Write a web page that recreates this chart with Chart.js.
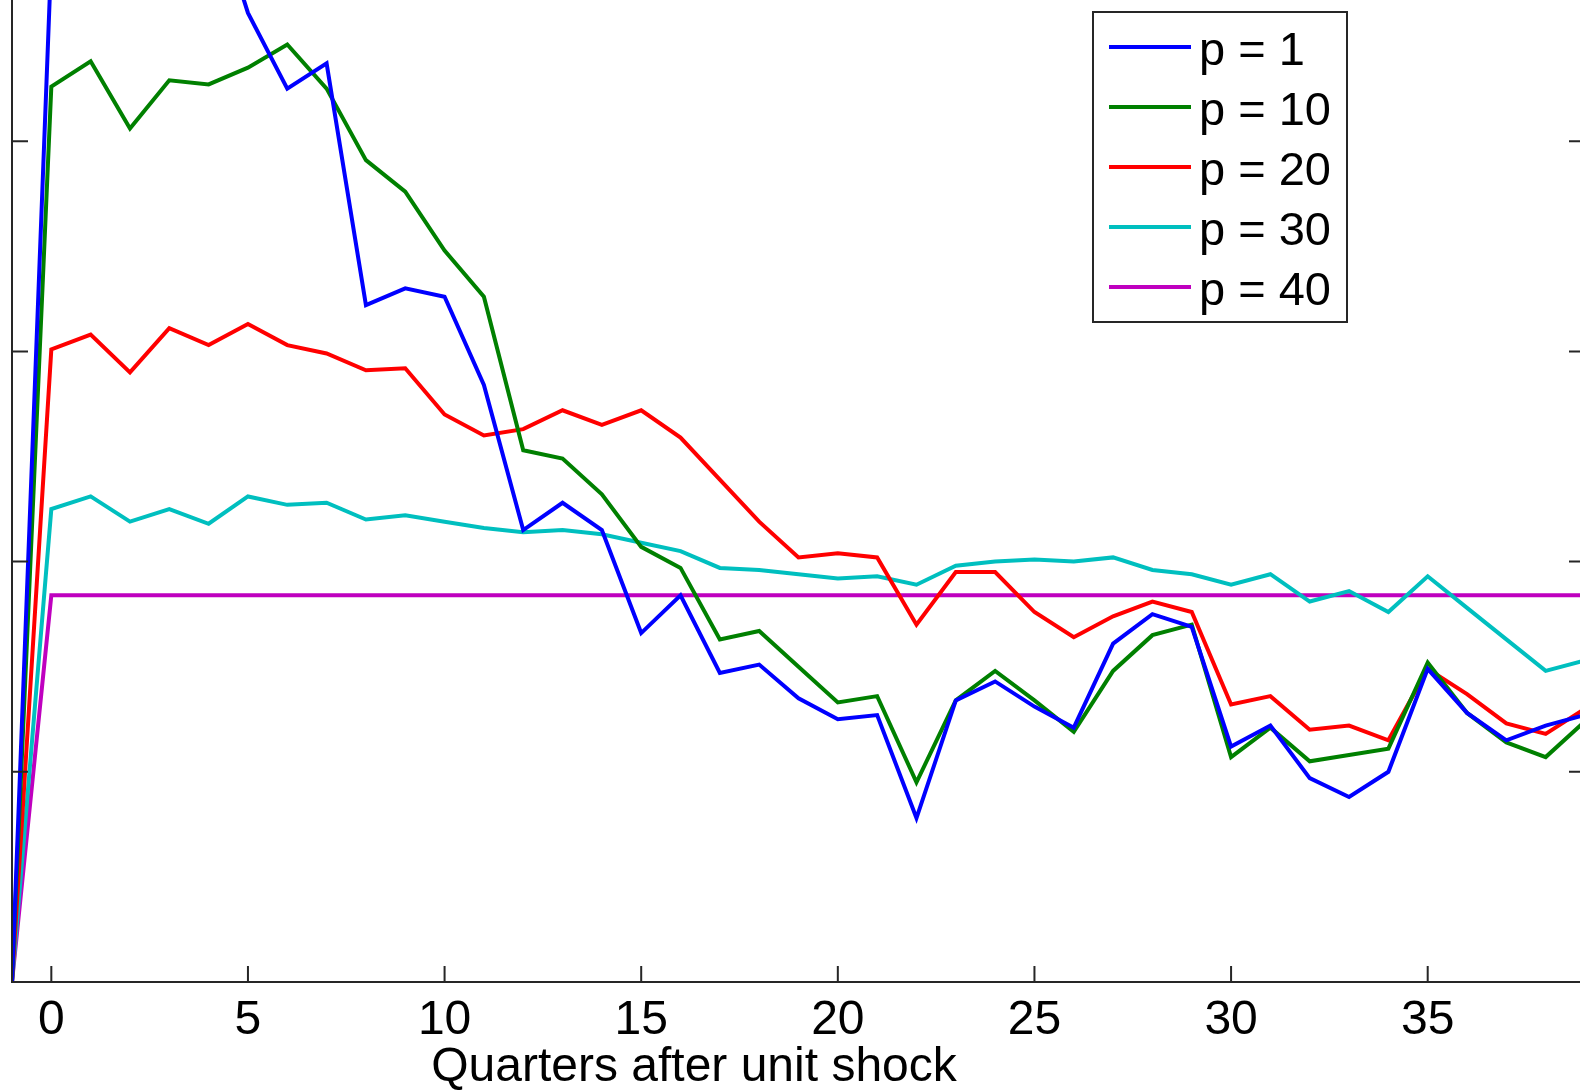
<!DOCTYPE html>
<html>
<head>
<meta charset="utf-8">
<script src="https://cdn.jsdelivr.net/npm/chart.js@4.4.0/dist/chart.umd.min.js"></script>
<style>
	html, body { margin: 0; padding: 0; background: #fff; overflow: hidden; width: 1580px; height: 1091px; }
	#wrap { position: absolute; left: -28px; top: -69px; width: 1613px; height: 1160px; }
</style>
</head>
<body>
<div id="wrap"><canvas id="irf-chart"></canvas></div>
<script>
var quarters = [-1, 0, 1, 2, 3, 4, 5, 6, 7, 8, 9, 10, 11, 12, 13, 14, 15, 16, 17, 18, 19,
	20, 21, 22, 23, 24, 25, 26, 27, 28, 29, 30, 31, 32, 33, 34, 35, 36, 37, 38, 39];

var p1 = [0, 4.88, 5.40, 5.10, 5.30, 5.20, 4.61, 4.25, 4.37, 3.22, 3.30, 3.26, 2.84, 2.15, 2.28, 2.15,
	1.66, 1.84, 1.47, 1.51, 1.35, 1.25, 1.27, 0.78, 1.34, 1.43, 1.31, 1.21, 1.61, 1.75, 1.69,
	1.12, 1.22, 0.97, 0.88, 1.00, 1.49, 1.28, 1.15, 1.22, 1.27];
var p10 = [0, 4.26, 4.38, 4.06, 4.29, 4.27, 4.35, 4.46, 4.25, 3.91, 3.76, 3.48, 3.26, 2.53, 2.49, 2.32,
	2.07, 1.97, 1.63, 1.67, 1.50, 1.33, 1.36, 0.95, 1.34, 1.48, 1.34, 1.19, 1.48, 1.65, 1.70,
	1.07, 1.21, 1.05, 1.08, 1.11, 1.52, 1.28, 1.14, 1.07, 1.24];
var p20 = [0, 3.01, 3.08, 2.90, 3.11, 3.03, 3.13, 3.03, 2.99, 2.91, 2.92, 2.70, 2.60, 2.63, 2.72, 2.65,
	2.72, 2.59, 2.39, 2.19, 2.02, 2.04, 2.02, 1.70, 1.95, 1.95, 1.76, 1.64, 1.74, 1.81, 1.76,
	1.32, 1.36, 1.20, 1.22, 1.15, 1.49, 1.37, 1.23, 1.18, 1.30];
var p30 = [0, 2.25, 2.31, 2.19, 2.25, 2.18, 2.31, 2.27, 2.28, 2.20, 2.22, 2.19, 2.16, 2.14, 2.15, 2.13,
	2.09, 2.05, 1.97, 1.96, 1.94, 1.92, 1.93, 1.89, 1.98, 2.00, 2.01, 2.00, 2.02, 1.96, 1.94,
	1.89, 1.94, 1.81, 1.86, 1.76, 1.93, 1.78, 1.63, 1.48, 1.53];
var p40 = [0, 1.84, 1.84, 1.84, 1.84, 1.84, 1.84, 1.84, 1.84, 1.84, 1.84, 1.84, 1.84, 1.84, 1.84, 1.84,
	1.84, 1.84, 1.84, 1.84, 1.84, 1.84, 1.84, 1.84, 1.84, 1.84, 1.84, 1.84, 1.84, 1.84, 1.84,
	1.84, 1.84, 1.84, 1.84, 1.84, 1.84, 1.84, 1.84, 1.84, 1.84];

var seriesNames = ['p = 1', 'p = 10', 'p = 20', 'p = 30', 'p = 40'];
var seriesColors = ['#0000ff', '#008000', '#ff0000', '#00bfbf', '#bf00bf'];
var xTicks = [0, 5, 10, 15, 20, 25, 30, 35];
var yTicks = [0, 1, 2, 3, 4, 5];
var xTitle = 'Quarters after unit shock';

var fontFamily = '"Liberation Sans", Arial, sans-serif';

// matlab style box: inward ticks, boxed legend, off-centre xlabel
var matlabAxes = {
	id: 'matlabAxes',
	afterDatasetsDraw(chart) {
		var ctx = chart.ctx;
		var a = chart.chartArea;
		var xs = chart.scales.x, ys = chart.scales.y;
		var tl = 16;

		ctx.save();
		ctx.strokeStyle = '#262626';
		ctx.lineWidth = 2;
		ctx.strokeRect(a.left, a.top, a.right - a.left, a.bottom - a.top);

		ctx.beginPath();
		xTicks.forEach(function (v) {
			var px = xs.getPixelForValue(v);
			ctx.moveTo(px, a.bottom); ctx.lineTo(px, a.bottom - tl);
			ctx.moveTo(px, a.top); ctx.lineTo(px, a.top + tl);
		});
		yTicks.forEach(function (v) {
			var py = ys.getPixelForValue(v);
			ctx.moveTo(a.left, py); ctx.lineTo(a.left + tl, py);
			ctx.moveTo(a.right, py); ctx.lineTo(a.right - tl, py);
		});
		ctx.stroke();

		// legend box
		var lx = a.left + 1081, ly = a.top + 81;
		ctx.fillStyle = '#fff';
		ctx.fillRect(lx, ly, 254, 310);
		ctx.strokeRect(lx, ly, 254, 310);
		ctx.font = '47px ' + fontFamily;
		ctx.textBaseline = 'alphabetic';
		ctx.textAlign = 'left';
		seriesNames.forEach(function (name, i) {
			var y = ly + 35 + 60 * i;
			ctx.strokeStyle = seriesColors[i];
			ctx.lineWidth = 4;
			ctx.beginPath();
			ctx.moveTo(lx + 16, y);
			ctx.lineTo(lx + 98, y);
			ctx.stroke();
			ctx.fillStyle = '#000';
			ctx.fillText(name, lx + 106, y + 18);
		});

		// x label
		ctx.font = '48px ' + fontFamily;
		ctx.textAlign = 'center';
		ctx.fillStyle = '#000';
		ctx.fillText(xTitle, a.left + 682, a.bottom + 99);
		ctx.restore();
	}
};

var seriesData = [p1, p10, p20, p30, p40];

new Chart('irf-chart', {
	type: 'line',
	data: {
		labels: quarters,
		datasets: seriesData.map(function (d, i) {
			return {
				label: seriesNames[i],
				data: d,
				borderColor: seriesColors[i],
				backgroundColor: seriesColors[i],
				borderWidth: 4,
				pointRadius: 0,
				tension: 0,
				fill: false
			};
		})
	},
	options: {
		responsive: true,
		maintainAspectRatio: false,
		animation: false,
		layout: { padding: 0 },
		plugins: {
			legend: { display: false },
			tooltip: { enabled: false }
		},
		scales: {
			x: {
				type: 'linear',
				min: -1,
				max: 39,
				afterBuildTicks: function (scale) {
					scale.ticks = xTicks.map(function (v) { return { value: v }; });
				},
				afterFit: function (scale) { scale.height = 109; },
				grid: { display: false },
				border: { display: false },
				ticks: {
					color: '#000',
					padding: 2,
					maxRotation: 0,
					autoSkip: false,
					font: { family: fontFamily, size: 48 }
				}
			},
			y: {
				type: 'linear',
				min: 0,
				max: 5,
				afterBuildTicks: function (scale) {
					scale.ticks = yTicks.map(function (v) { return { value: v }; });
				},
				afterFit: function (scale) { scale.width = 40; },
				grid: { display: false },
				border: { display: false },
				ticks: { display: false }
			}
		}
	},
	plugins: [matlabAxes]
});
</script>
</body>
</html>
